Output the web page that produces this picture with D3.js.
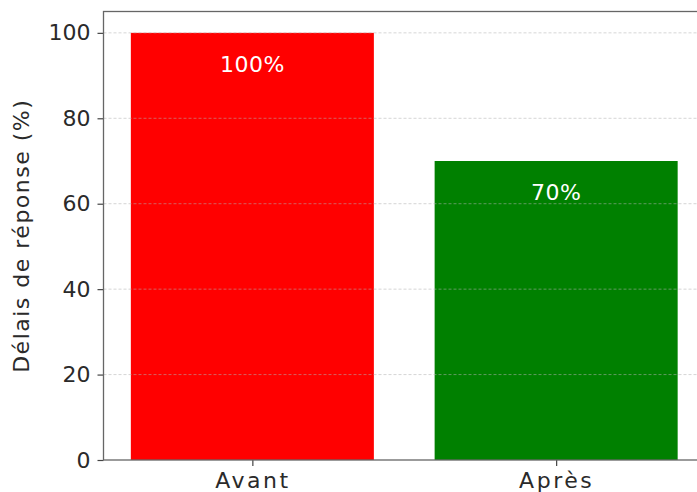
<!DOCTYPE html>
<html>
<head>
<meta charset="utf-8">
<script src="https://cdn.jsdelivr.net/npm/d3@7"></script>
<style>
  html, body { margin: 0; padding: 0; background: #fff; overflow: hidden; }
  svg { display: block; }
  text { font-family: "DejaVu Sans", sans-serif; }
</style>
</head>
<body>
<script>
const categories = ["Avant", "Après"];
const values = [100, 70];
const colors = ["#ff0000", "#008000"];
const labels = ["100%", "70%"];
const yTicks = [0, 20, 40, 60, 80, 100];
const yLabel = "Délais de réponse (%)";

const W = 697, H = 492;
const mLeft = 103.5, mRight = 705, mTop = 11.5, mBottom = 460;

const svg = d3.select("body").append("svg")
  .attr("width", W).attr("height", H);

const x = d3.scaleLinear().domain([-0.49, 1.49]).range([mLeft, mRight]);
const y = d3.scaleLinear().domain([0, 105]).range([mBottom, mTop]);
const barW = 0.8;

// bars
svg.append("g").selectAll("rect").data(values).join("rect")
  .attr("x", (d, i) => x(i - barW / 2))
  .attr("width", (d, i) => x(i + barW / 2) - x(i - barW / 2))
  .attr("y", d => y(d))
  .attr("height", d => y(0) - y(d))
  .attr("fill", (d, i) => colors[i]);

// grid (on top of bars)
svg.append("g").selectAll("line").data(yTicks.filter(t => t > 0)).join("line")
  .attr("x1", mLeft).attr("x2", mRight)
  .attr("y1", d => y(d)).attr("y2", d => y(d))
  .attr("stroke", "#b0b0b0").attr("stroke-opacity", 0.6)
  .attr("stroke-width", 0.9).attr("stroke-dasharray", "3,2");

// value labels
svg.append("g").selectAll("text").data(values).join("text")
  .attr("x", (d, i) => x(i))
  .attr("y", d => y(d) + 39)
  .attr("text-anchor", "middle")
  .attr("fill", "#ffffff")
  .attr("font-size", 22)
  .attr("letter-spacing", 0.5)
  .text((d, i) => labels[i]);

// axes
const yAxis = d3.axisLeft(y).tickValues(yTicks).tickSize(6).tickPadding(7).tickFormat(d3.format("d"));
const gy = svg.append("g").attr("transform", `translate(${mLeft},0)`).call(yAxis);
gy.select(".domain").remove();
gy.selectAll(".tick line").attr("stroke", "#444").attr("stroke-width", 1.2);
gy.selectAll(".tick text").attr("font-size", 22).attr("fill", "#2a2a2a")
  .attr("font-family", "DejaVu Sans, sans-serif");

const xAxis = d3.axisBottom(x).tickValues(categories.map((c, i) => i))
  .tickFormat(i => categories[i]).tickSize(6).tickPadding(6);
const gx = svg.append("g").attr("transform", `translate(0,${mBottom})`).call(xAxis);
gx.select(".domain").remove();
gx.selectAll(".tick line").attr("stroke", "#444").attr("stroke-width", 1.2);
gx.selectAll(".tick text").attr("font-size", 22).attr("fill", "#2a2a2a")
  .attr("letter-spacing", 2.5)
  .attr("font-family", "DejaVu Sans, sans-serif");

// spines
svg.append("rect")
  .attr("x", mLeft).attr("y", mTop)
  .attr("width", mRight - mLeft).attr("height", mBottom - mTop)
  .attr("fill", "none").attr("stroke", "#666").attr("stroke-width", 1.3);

// y label
svg.append("text")
  .attr("transform", `translate(29,${(mTop + mBottom) / 2}) rotate(-90)`)
  .attr("text-anchor", "middle")
  .attr("font-size", 22)
  .attr("letter-spacing", 1.5)
  .attr("fill", "#2a2a2a")
  .text(yLabel);
</script>
</body>
</html>
